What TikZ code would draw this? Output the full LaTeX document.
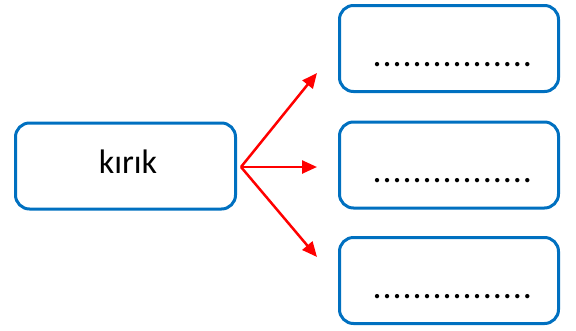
\documentclass[tikz,border=0pt]{standalone}
\usepackage{fontspec}
\setmainfont{Carlito}
\usetikzlibrary{arrows.meta}
\definecolor{boxblue}{RGB}{0,112,192}
\definecolor{arrred}{RGB}{255,0,0}
\begin{document}
\begin{tikzpicture}[x=1pt,y=-1pt,
  wbox/.style={draw=boxblue,line width=3pt,rounded corners=14pt,minimum width=220pt,minimum height=86pt,inner sep=0pt},
  redarrow/.style={draw=arrred,line width=2.5pt,-{Triangle[length=15pt,width=13pt]}},
  dotstext/.style={font=\fontsize{36}{36}\selectfont\addfontfeatures{LetterSpace=2.6},anchor=base west,inner sep=0pt},
  wordtext/.style={font=\fontsize{34}{34}\selectfont,anchor=base}]
\useasboundingbox (0,0) rectangle (576,330);
\node[wbox] (src) at (125.5,166) {};
\node[wbox,minimum width=219pt] (t1) at (449,48.5) {};
\node[wbox,minimum width=219pt] (t2) at (449,165) {};
\node[wbox,minimum width=219pt] (t3) at (449,280.5) {};
\node[wordtext] (w) at (128,173) {kırık};
\node[dotstext] (d1) at (372.5,66) {................};
\node[dotstext] (d2) at (372.5,182) {................};
\node[dotstext] (d3) at (372.5,298) {................};
\coordinate (j) at (241,167);
\coordinate (a1) at (317,73);
\coordinate (a2) at (317,167);
\coordinate (a3) at (317,257);
\draw[redarrow] (j) -- (a1);
\draw[redarrow] (j) -- (a2);
\draw[redarrow] (j) -- (a3);
\end{tikzpicture}
\end{document}
